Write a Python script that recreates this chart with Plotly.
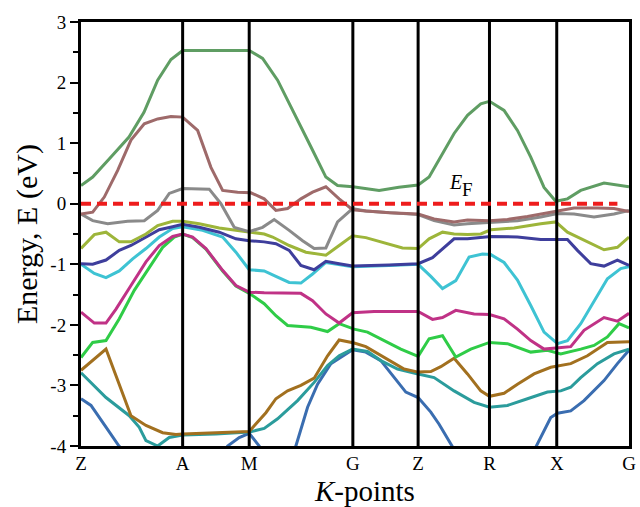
import plotly.graph_objects as go

# ---- high-symmetry points (k-path distance) ----
kpt_labels = ["Z", "A", "M", "G", "Z", "R", "X", "G"]
kpt_pos = [0.0, 1.017, 1.683, 2.72, 3.373, 4.087, 4.76, 5.483]

# ---- bands (k, E in eV) ----
top_k = [0, 0.117, 0.30, 0.48, 0.63, 0.767, 0.90, 1.017, 1.683, 1.817, 1.967, 2.13, 2.30, 2.45, 2.567, 2.72, 2.983, 3.18, 3.373, 3.483, 3.60, 3.733, 3.867, 4.0, 4.087, 4.233, 4.367, 4.50, 4.633, 4.75, 4.867, 5.0, 5.233, 5.483]
top_e = [0.30, 0.44, 0.77, 1.10, 1.51, 2.04, 2.38, 2.53, 2.53, 2.40, 2.04, 1.49, 0.94, 0.44, 0.30, 0.28, 0.22, 0.27, 0.31, 0.44, 0.77, 1.16, 1.46, 1.65, 1.69, 1.54, 1.21, 0.77, 0.27, 0.04, 0.08, 0.22, 0.34, 0.28]

mauve_k = [0, 0.117, 0.233, 0.367, 0.50, 0.633, 0.767, 0.90, 1.017, 1.167, 1.30, 1.417, 1.567, 1.70, 1.833, 1.95, 2.067, 2.20, 2.317, 2.45, 2.583, 2.717, 2.85, 3.083, 3.373, 3.533, 3.733, 3.867, 4.087, 4.267, 4.467, 4.667, 4.767, 4.933, 5.167, 5.333, 5.483]
mauve_e = [-0.17, -0.14, 0.11, 0.55, 1.05, 1.32, 1.40, 1.44, 1.43, 1.21, 0.60, 0.22, 0.19, 0.18, 0.08, -0.11, -0.08, 0.08, 0.19, 0.28, 0.08, -0.10, -0.12, -0.15, -0.17, -0.25, -0.30, -0.27, -0.28, -0.26, -0.21, -0.15, -0.12, -0.07, -0.07, -0.08, -0.13]

gray_k = [0, 0.117, 0.267, 0.467, 0.633, 0.767, 0.883, 1.017, 1.283, 1.40, 1.533, 1.683, 1.817, 1.933, 2.083, 2.217, 2.333, 2.45, 2.567, 2.717, 2.85, 3.083, 3.373, 3.533, 3.733, 3.867, 4.10, 4.367, 4.60, 4.767, 4.933, 5.133, 5.333, 5.483]
gray_e = [-0.17, -0.28, -0.33, -0.29, -0.28, -0.11, 0.17, 0.25, 0.24, 0.0, -0.39, -0.46, -0.39, -0.26, -0.44, -0.61, -0.74, -0.73, -0.30, -0.08, -0.12, -0.15, -0.18, -0.28, -0.35, -0.33, -0.31, -0.28, -0.22, -0.16, -0.17, -0.22, -0.17, -0.11]

olive_k = [0, 0.133, 0.25, 0.383, 0.50, 0.65, 0.767, 0.917, 1.017, 1.183, 1.383, 1.55, 1.683, 1.833, 1.917, 2.083, 2.25, 2.45, 2.583, 2.717, 2.85, 3.083, 3.217, 3.373, 3.483, 3.617, 3.733, 3.867, 4.0, 4.10, 4.333, 4.60, 4.75, 4.867, 5.067, 5.233, 5.367, 5.483]
olive_e = [-0.74, -0.51, -0.47, -0.63, -0.63, -0.50, -0.36, -0.29, -0.29, -0.33, -0.40, -0.44, -0.47, -0.50, -0.55, -0.69, -0.80, -0.85, -0.69, -0.53, -0.56, -0.67, -0.73, -0.74, -0.58, -0.47, -0.50, -0.51, -0.50, -0.43, -0.40, -0.33, -0.30, -0.47, -0.63, -0.76, -0.72, -0.55]

navy_k = [0, 0.117, 0.25, 0.383, 0.50, 0.65, 0.783, 0.917, 1.017, 1.183, 1.383, 1.55, 1.683, 1.833, 1.95, 2.083, 2.20, 2.333, 2.45, 2.583, 2.717, 3.083, 3.373, 3.517, 3.65, 3.733, 3.867, 4.10, 4.367, 4.60, 4.867, 4.967, 5.10, 5.233, 5.367, 5.483]
navy_e = [-0.99, -1.00, -0.93, -0.77, -0.69, -0.55, -0.43, -0.38, -0.34, -0.39, -0.47, -0.58, -0.61, -0.63, -0.66, -0.77, -1.02, -1.09, -0.95, -0.99, -1.03, -1.01, -0.99, -0.89, -0.69, -0.58, -0.58, -0.54, -0.55, -0.59, -0.59, -0.77, -0.99, -1.03, -0.93, -1.02]

cyan_k = [0, 0.133, 0.25, 0.383, 0.517, 0.65, 0.783, 0.917, 1.017, 1.217, 1.417, 1.55, 1.683, 1.833, 1.95, 2.083, 2.20, 2.317, 2.45, 2.583, 2.717, 3.083, 3.373, 3.50, 3.617, 3.75, 3.883, 4.017, 4.10, 4.233, 4.367, 4.50, 4.633, 4.767, 4.867, 5.0, 5.133, 5.267, 5.40, 5.483]
cyan_e = [-1.00, -1.15, -1.22, -1.11, -0.91, -0.74, -0.55, -0.41, -0.38, -0.44, -0.55, -0.80, -1.09, -1.11, -1.20, -1.30, -1.31, -1.16, -0.97, -1.00, -1.04, -1.02, -1.00, -1.20, -1.40, -1.27, -0.88, -0.83, -0.84, -0.97, -1.26, -1.68, -2.12, -2.31, -2.26, -1.98, -1.60, -1.24, -1.07, -1.04]

magenta_k = [0, 0.133, 0.25, 0.35, 0.50, 0.65, 0.783, 0.917, 1.017, 1.117, 1.25, 1.417, 1.55, 1.683, 1.833, 2.20, 2.317, 2.45, 2.583, 2.717, 2.933, 3.373, 3.517, 3.617, 3.75, 3.933, 4.087, 4.233, 4.367, 4.50, 4.633, 4.767, 4.90, 5.033, 5.233, 5.367, 5.483]
magenta_e = [-1.79, -1.97, -1.97, -1.74, -1.35, -0.96, -0.69, -0.54, -0.50, -0.55, -0.74, -1.10, -1.35, -1.46, -1.47, -1.48, -1.60, -1.82, -1.97, -1.80, -1.78, -1.78, -1.91, -1.88, -1.76, -1.82, -1.83, -1.90, -2.07, -2.26, -2.40, -2.38, -2.36, -2.09, -1.88, -1.94, -1.81]

green_k = [0, 0.117, 0.25, 0.383, 0.533, 0.683, 0.817, 0.933, 1.017, 1.117, 1.25, 1.417, 1.55, 1.683, 1.833, 1.95, 2.067, 2.30, 2.467, 2.583, 2.733, 2.867, 3.033, 3.20, 3.373, 3.483, 3.617, 3.75, 3.90, 4.087, 4.267, 4.50, 4.667, 4.80, 5.0, 5.133, 5.267, 5.383, 5.483]
green_e = [-2.54, -2.29, -2.26, -1.90, -1.43, -1.05, -0.72, -0.55, -0.50, -0.56, -0.75, -1.11, -1.36, -1.48, -1.65, -1.85, -2.01, -2.04, -2.11, -1.98, -2.07, -2.12, -2.26, -2.40, -2.52, -2.23, -2.18, -2.53, -2.40, -2.29, -2.31, -2.45, -2.42, -2.48, -2.40, -2.34, -2.20, -1.98, -2.05]

brown_k = [0, 0.25, 0.50, 0.65, 0.817, 0.95, 1.017, 1.683, 1.85, 1.95, 2.067, 2.20, 2.333, 2.467, 2.583, 2.733, 2.85, 3.033, 3.233, 3.373, 3.50, 3.60, 3.733, 3.867, 4.0, 4.087, 4.233, 4.367, 4.533, 4.70, 4.90, 5.067, 5.267, 5.483]
brown_e = [-2.75, -2.40, -3.50, -3.66, -3.78, -3.81, -3.80, -3.76, -3.45, -3.22, -3.09, -3.00, -2.88, -2.51, -2.25, -2.30, -2.36, -2.53, -2.73, -2.78, -2.77, -2.69, -2.55, -2.81, -3.09, -3.18, -3.13, -2.98, -2.81, -2.70, -2.64, -2.51, -2.29, -2.28]

teal_k = [0, 0.25, 0.483, 0.583, 0.65, 0.767, 0.883, 1.017, 1.35, 1.683, 1.833, 1.967, 2.167, 2.333, 2.467, 2.583, 2.717, 2.867, 3.0, 3.167, 3.373, 3.533, 3.733, 3.933, 4.087, 4.267, 4.467, 4.667, 4.80, 4.90, 5.0, 5.167, 5.333, 5.483]
teal_e = [-2.79, -3.20, -3.50, -3.69, -3.91, -4.00, -3.86, -3.82, -3.80, -3.77, -3.71, -3.55, -3.25, -2.95, -2.67, -2.51, -2.40, -2.44, -2.59, -2.73, -2.81, -2.87, -3.09, -3.28, -3.36, -3.33, -3.22, -3.11, -3.09, -3.03, -2.87, -2.64, -2.48, -2.40]

steel_k = [0, 0.10, 0.25, 0.38, 0.55, 1.35, 1.467, 1.583, 1.683, 1.783, 1.88, 2.05, 2.15, 2.267, 2.367, 2.50, 2.717, 2.85, 3.0, 3.133, 3.25, 3.373, 3.50, 3.583, 3.717, 3.82, 4.45, 4.55, 4.70, 4.767, 4.90, 5.033, 5.233, 5.367, 5.483]
steel_e = [-3.22, -3.33, -3.69, -4.00, -4.30, -4.30, -4.00, -3.86, -3.79, -4.00, -4.30, -4.30, -4.00, -3.36, -2.98, -2.64, -2.41, -2.45, -2.59, -2.87, -3.11, -3.20, -3.44, -3.64, -4.02, -4.30, -4.30, -4.02, -3.53, -3.46, -3.42, -3.25, -2.92, -2.64, -2.42]

# Fermi level line
ef_value = 0.0
ef_end = 5.367

y_ticks = [3, 2, 1, 0, -1, -2, -3, -4]
y_ticktext = ["3", "2", "1", "0", "-1", "-2", "-3", "-4"]

bands = [
    (steel_k, steel_e, "#3a6db0"),
    (teal_k, teal_e, "#2b9c9c"),
    (brown_k, brown_e, "#a2701f"),
    (green_k, green_e, "#2fcc47"),
    (magenta_k, magenta_e, "#c03286"),
    (cyan_k, cyan_e, "#3ec3d3"),
    (navy_k, navy_e, "#3e3e9c"),
    (olive_k, olive_e, "#9db53a"),
    (gray_k, gray_e, "#8a8a8a"),
    (mauve_k, mauve_e, "#9e6a6a"),
    (top_k, top_e, "#5f9d63"),
]

fig = go.Figure()
for k, e, c in bands:
    fig.add_trace(go.Scatter(x=k, y=e, mode="lines",
                             line=dict(color=c, width=3), showlegend=False,
                             hoverinfo="skip"))

shapes = []
for xp in kpt_pos[1:-1]:
    shapes.append(dict(type="line", xref="x", yref="paper", x0=xp, x1=xp,
                       y0=0, y1=1, line=dict(color="black", width=3),
                       layer="above"))
shapes.append(dict(type="line", xref="x", yref="y", x0=kpt_pos[0], x1=ef_end,
                   y0=ef_value, y1=ef_value,
                   line=dict(color="#ee1c1c", width=4, dash="10px,6px"),
                   layer="above"))

font_family = "Liberation Serif"
fig.update_layout(
    width=640, height=507,
    margin=dict(l=81, r=11, t=22, b=61),
    paper_bgcolor="white", plot_bgcolor="white",
    font=dict(family=font_family, color="black", size=19),
    shapes=shapes,
    showlegend=False,
)
fig.update_xaxes(
    range=[kpt_pos[0], kpt_pos[-1]],
    tickvals=kpt_pos, ticktext=kpt_labels,
    ticks="", showgrid=False, zeroline=False, automargin=False,
    showline=True, linecolor="black", linewidth=3, mirror=True,
    ticklabelstandoff=-2,
    tickfont=dict(family=font_family, size=19, color="black"),
)
fig.update_yaxes(
    range=[-4, 3],
    tickvals=y_ticks, ticktext=y_ticktext,
    ticks="outside", ticklen=8, tickwidth=2, tickcolor="black",
    minor=dict(ticks="outside", dtick=0.5, ticklen=5, tickwidth=2, tickcolor="black"),
    showgrid=False, zeroline=False, automargin=False,
    showline=True, linecolor="black", linewidth=3, mirror=True,
    tickfont=dict(family=font_family, size=19, color="black"),
)
# axis titles
fig.add_annotation(xref="paper", yref="paper", x=-0.0985, y=0.50,
                   xanchor="center", yanchor="middle", textangle=-90,
                   text="Energy, E (eV)", showarrow=False,
                   font=dict(family=font_family, size=30, color="black"))
fig.add_annotation(xref="paper", yref="paper", x=0.518, y=-0.105,
                   xanchor="center", yanchor="middle",
                   text="<i>K</i>-points", showarrow=False,
                   font=dict(family=font_family, size=29, color="black"))
# Fermi level label
fig.add_annotation(x=3.75, y=0.36, xref="x", yref="y", text="<i>E</i>",
                   showarrow=False, font=dict(family=font_family, size=20, color="black"))
fig.add_annotation(x=3.87, y=0.23, xref="x", yref="y", text="F",
                   showarrow=False, font=dict(family=font_family, size=19, color="black"))

fig.write_html("out.html", config={"displayModeBar": False},
               post_script="document.body.style.margin='0px';document.body.style.overflow='hidden';")
